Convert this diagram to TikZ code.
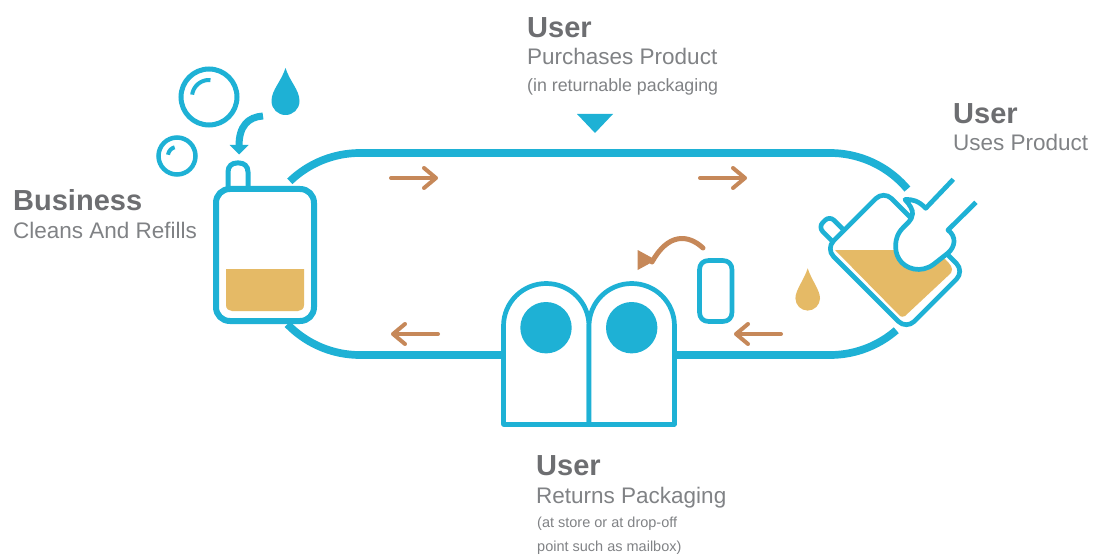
\documentclass[tikz,border=0pt]{standalone}
\usepackage{fontspec}
\setmainfont{Liberation Sans}
\usetikzlibrary{arrows.meta}
\definecolor{tealb}{HTML}{1EB1D5}
\definecolor{sand}{HTML}{E5BA66}
\definecolor{clay}{HTML}{C68859}
\definecolor{headgray}{HTML}{6D6E71}
\definecolor{subgray}{HTML}{808285}
\tikzset{
  track/.style={draw=tealb,line width=7.7pt},
  outline/.style={draw=tealb,line width=5pt,fill=white,line join=round},
  thinout/.style={draw=tealb,line width=4.7pt,fill=white,line join=round},
  flow/.style={draw=clay,line width=4pt,line cap=round,-{Straight Barb[length=12pt,width=20pt,line cap=round,line join=round]}},
  head/.style={anchor=base west,inner sep=0pt,font=\fontsize{29}{29}\selectfont\bfseries,text=headgray},
  sub/.style={anchor=base west,inner sep=0pt,font=\fontsize{22.5}{22.5}\selectfont,text=subgray},
  small/.style={anchor=base west,inner sep=0pt,font=\fontsize{17.8}{18}\selectfont,text=subgray},
  tiny/.style={anchor=base west,inner sep=0pt,font=\fontsize{14.5}{15}\selectfont,text=subgray},
}
\begin{document}
\begin{tikzpicture}[x=1pt,y=-1pt]
\useasboundingbox (0,0) rectangle (1108,556);
% track
\draw[track] plot[domain=134:90,samples=30] ({360+101*cos(\x)},{254-101*sin(\x)})
  -- plot[domain=90:40,samples=30] ({830+101*cos(\x)},{254-101*sin(\x)});
\draw[track] plot[domain=-49:-90,samples=30] ({830+101*cos(\x)},{254-101*sin(\x)})
  -- plot[domain=-90:-136,samples=30] ({360+101*cos(\x)},{254-101*sin(\x)});
% bubbles
\draw[tealb,line width=5pt] (209,97) circle[radius=28pt];
\draw[tealb,line width=4pt] plot[domain=172:85,samples=20] ({209+17*cos(\x)},{97-17*sin(\x)});
\draw[tealb,line width=4.5pt] (177,156) circle[radius=18.5pt];
\draw[tealb,line width=4pt] plot[domain=172:105,samples=12] ({177+9*cos(\x)},{156-9*sin(\x)});
% blue drop
\fill[tealb] (285.5,68) .. controls (281,82) and (271.5,90) .. (271.5,101)
  .. controls (271.5,109) and (277.8,115) .. (285.5,115)
  .. controls (293.2,115) and (299.5,109) .. (299.5,101)
  .. controls (299.5,90) and (290,82) .. (285.5,68) -- cycle;
% curved arrow into neck
\draw[tealb,line width=7pt] (263,116) .. controls (248,117) and (239,126) .. (239,146);
\fill[tealb] (229.5,145) -- (248.7,145) -- (239,154.5) -- cycle;
% upright bottle
\draw[outline] (228,189) -- (228,172) .. controls (228,166) and (232,163) .. (237,163)
  -- (239,163) .. controls (244,163) and (248,166) .. (248,172) -- (248,189);
\draw[outline,line width=6pt] (216,203) .. controls (216,195) and (222,189) .. (230,189) -- (300,189)
  .. controls (308,189) and (314,195) .. (314,203) -- (314,307)
  .. controls (314,315) and (308,321) .. (300,321) -- (230,321)
  .. controls (222,321) and (216,315) .. (216,307) -- cycle;
\fill[sand] (226,269) -- (304,269) -- (304,305) .. controls (304,309) and (301,311) .. (298,311)
  -- (232,311) .. controls (229,311) and (226,309) .. (226,305) -- cycle;
% top triangle
\fill[tealb] (577,114) -- (613,114) -- (595,133) -- cycle;
% flow arrows
\coordinate (tl0) at (391,178); \coordinate (tl1) at (438,178);
\coordinate (tr0) at (700,178); \coordinate (tr1) at (747,178);
\coordinate (bl0) at (438,334); \coordinate (bl1) at (391,334);
\coordinate (br0) at (781,334); \coordinate (br1) at (734,334);
\draw[flow] (tl0) -- (tl1);
\draw[flow] (tr0) -- (tr1);
\draw[flow] (bl0) -- (bl1);
\draw[flow] (br0) -- (br1);
% mailboxes
\draw[thinout] (503.5,424.5) -- (503.5,326) .. controls (503.5,302.4) and (522.5,283.5) .. (546.25,283.5)
  .. controls (570,283.5) and (589,302.4) .. (589,326) -- (589,424.5) -- cycle;
\draw[thinout] (589,424.5) -- (589,326) .. controls (589,302.4) and (608,283.5) .. (631.75,283.5)
  .. controls (655.5,283.5) and (674.5,302.4) .. (674.5,326) -- (674.5,424.5) -- cycle;
\fill[tealb] (546,327.7) circle[radius=25.7pt];
\fill[tealb] (631.7,327.7) circle[radius=25.7pt];
% small package
\draw[thinout] (699.5,270) .. controls (699.5,264) and (703,260.5) .. (709,260.5) -- (722.5,260.5)
  .. controls (728.5,260.5) and (732,264) .. (732,270) -- (732,312)
  .. controls (732,318) and (728.5,321.5) .. (722.5,321.5) -- (709,321.5)
  .. controls (703,321.5) and (699.5,318) .. (699.5,312) -- cycle;
% return arrow
\draw[clay,line width=5pt,line cap=round] (703,248) .. controls (688,234) and (668,233) .. (652,262);
\fill[clay] (637.7,250) -- (637.7,270) -- (656,260) -- cycle;
% orange drop
\fill[sand] (807.7,268.3) .. controls (804,280) and (795.4,290) .. (795.4,298.3)
  .. controls (795.4,305) and (801,310.6) .. (807.7,310.6)
  .. controls (814.4,310.6) and (820,305) .. (820,298.3)
  .. controls (820,290) and (811.4,280) .. (807.7,268.3) -- cycle;
% tilted bottle
\begin{scope}[shift={(895,260)},rotate=45]
\draw[thinout] (-31,-57) -- (-31,-71) .. controls (-31,-75) and (-28,-77.5) .. (-25,-77.5)
  -- (-21,-77.5) .. controls (-18,-77.5) and (-15,-75) .. (-15,-71) -- (-15,-57);
\draw[thinout] (-41,-46) .. controls (-41,-52) and (-36,-57) .. (-30,-57) -- (30,-57)
  .. controls (36,-57) and (41,-52) .. (41,-46) -- (41,46)
  .. controls (41,52) and (36,57) .. (30,57) -- (-30,57)
  .. controls (-36,57) and (-41,52) .. (-41,46) -- cycle;
\end{scope}
\fill[sand] (835,250) -- (905,250) -- (945,259) .. controls (950,264) and (954,268) .. (951,273)
  -- (905,316) .. controls (903,317) and (901,317) .. (900,316) -- cycle;
% hand
\draw[draw=tealb,line width=4.7pt,fill=white,line join=round]
  (953.3,179.3) -- (925.7,208.3) .. controls (919,201) and (912,199) .. (905,199.5)
  .. controls (910,205) and (913,210) .. (912.5,214) .. controls (912,221) and (906,224) .. (901,230)
  .. controls (895,237) and (893.5,250) .. (899,259) .. controls (905,269) and (921,274) .. (934,264)
  -- (948,253) .. controls (955,247) and (957,237) .. (948,230) -- (976,202.3);
% text
\node[head] (usertop) at (527,38) {User};
\node[sub] (purch) at (527,65) {Purchases Product};
\node[small] (retpk) at (527,92) {(in returnable packaging};
\node[head] (userright) at (953,124) {User};
\node[sub] (uses) at (953,151) {Uses Product};
\node[head] (biz) at (13,211) {Business};
\node[sub] (clean) at (13,238) {Cleans And Refills};
\node[head] (userbot) at (536,475) {User};
\node[sub] (returns) at (536,503) {Returns Packaging};
\node[tiny] (store) at (537,527) {(at store or at drop-off};
\node[tiny] (point) at (537,551) {point such as mailbox)};
\end{tikzpicture}
\end{document}
